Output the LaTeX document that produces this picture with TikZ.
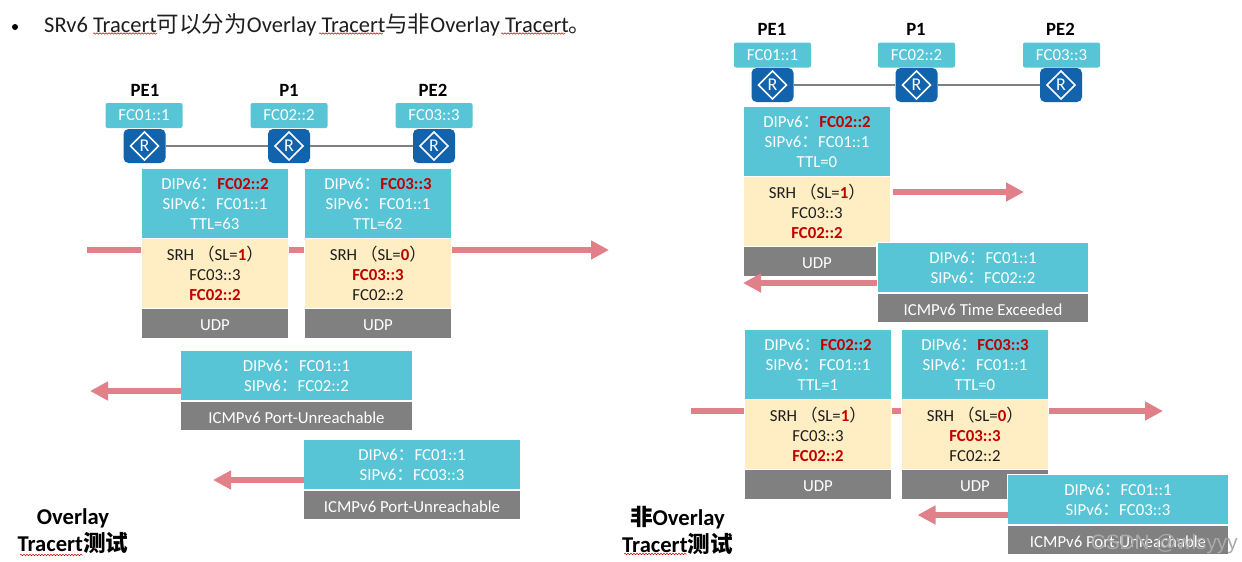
\documentclass[tikz,border=0pt]{standalone}
\usepackage{fontspec}
\usepackage{xcolor}
\usetikzlibrary{positioning,arrows.meta,decorations.pathmorphing}
\setmainfont{Carlito}
\newfontfamily\cjk{Noto Sans CJK SC}
\newfontfamily\markfont{Liberation Sans}
\definecolor{headcyan}{RGB}{87, 197, 214}
\definecolor{srhyellow}{RGB}{255, 237, 196}
\definecolor{udpgray}{RGB}{128, 128, 128}
\definecolor{arrowpink}{RGB}{226, 128, 138}
\definecolor{routerblue}{RGB}{18, 98, 172}
\definecolor{hotred}{RGB}{192, 0, 0}
\definecolor{inkblack}{RGB}{30, 30, 30}
\definecolor{markgray}{RGB}{170, 170, 170}
\newcommand{\hot}[1]{\textcolor{hotred}{\textbf{#1}}}
\newcommand{\zh}[1]{{\cjk #1}}
\newcommand{\cln}{\zh{：}}

\begin{document}
\begin{tikzpicture}[
  x=1pt, y=-1pt,
  pkt/.style={
    draw=white, line width=1.2pt, inner sep=0pt, outer sep=0pt,
    anchor=north, align=center, minimum width=147pt,
    font=\fontsize{16.8}{20}\selectfont
  },
  dip/.style={pkt, fill=headcyan, text=white, minimum height=70pt},
  dipshort/.style={pkt, fill=headcyan, text=white, minimum height=50.5pt},
  srh/.style={pkt, fill=srhyellow, text=inkblack, minimum height=70pt},
  udp/.style={
    pkt, fill=udpgray, text=white, minimum height=30pt,
    execute at begin node={\rule{0pt}{15pt}}
  },
  addr/.style={
    fill=headcyan, text=white, rounded corners=2pt, inner sep=0pt,
    minimum width=77pt, minimum height=25pt,
    font=\fontsize{16.8}{20}\selectfont
  },
  router/.style={
    fill=routerblue, text=white, rounded corners=5pt, inner sep=0pt,
    minimum width=42pt, minimum height=34pt,
    font=\fontsize{18}{18}\selectfont,
    path picture={
      \draw[white, line width=1.5pt, sharp corners]
        ([xshift=-14pt]path picture bounding box.center)
        -- ([yshift=14pt]path picture bounding box.center)
        -- ([xshift=14pt]path picture bounding box.center)
        -- ([yshift=-14pt]path picture bounding box.center) -- cycle;
    }
  },
  pe/.style={font=\fontsize{18.7}{20}\selectfont\bfseries, text=black},
  title/.style={font=\fontsize{22.6}{27}\selectfont\bfseries, text=black, align=center},
  link/.style={draw=udpgray, line width=2pt},
  flow/.style={-{Triangle[length=18pt,width=18pt]}, line width=6pt, arrowpink},
  squiggle/.style={
    draw=red!80!black, line width=0.5pt,
    decorate, decoration={snake, amplitude=0.7pt, segment length=3pt}
  }
]
\useasboundingbox (0,0) rectangle (1242,562);

%% ── HEADLINE ──
\node[circle, fill=black, inner sep=0pt, minimum size=6pt] (dot) at (15,27) {};
\node[anchor=west, inner sep=0pt, font=\fontsize{22.5}{26}\selectfont, text=inkblack] (headline) at (44,24.5)
  {SRv6 Tracert\zh{可以分为}Overlay Tracert\zh{与非}Overlay Tracert\zh{。}};
\draw[squiggle] (93,33.5) -- (157,33.5);
\draw[squiggle] (319,33.5) -- (383,33.5);
\draw[squiggle] (501,33.5) -- (565,33.5);

%% ── LEFT: ARROWS BEHIND PACKETS ──
\coordinate (Lin) at (87,250);
\coordinate (Lout) at (609,250);
\draw[flow] (Lin) -- (Lout);

%% ── LEFT: TOPOLOGY ──
\node[router] (LR1) at (144.5,146) {R};
\node[router] (LR2) at (289,146) {R};
\node[router] (LR3) at (434,146) {R};
\draw[link] (LR1) -- (LR2);
\draw[link] (LR2) -- (LR3);
\node[addr] (LA1) at (144,115.5) {FC01::1};
\node[addr] (LA2) at (289,115.5) {FC02::2};
\node[addr] (LA3) at (434,115.5) {FC03::3};
\node[pe] (LP1) at (145,90) {PE1};
\node[pe] (LP2) at (289,90) {P1};
\node[pe] (LP3) at (433,90) {PE2};

%% ── LEFT: PACKETS ──
\node[dip] (A1) at (215,168.5) {
  DIPv6\cln\hot{FC02::2}\\
  SIPv6\cln FC01::1\\
  TTL=63
};
\node[srh, below=0pt of A1] (A2) {
  SRH \zh{（}SL=\hot{1}\zh{）}\\
  FC03::3\\
  \hot{FC02::2}
};
\node[udp, below=0pt of A2] (A3) {UDP};
\node[dip] (B1) at (378,168.5) {
  DIPv6\cln\hot{FC03::3}\\
  SIPv6\cln FC01::1\\
  TTL=62
};
\node[srh, below=0pt of B1] (B2) {
  SRH \zh{（}SL=\hot{0}\zh{）}\\
  \hot{FC03::3}\\
  FC02::2
};
\node[udp, below=0pt of B2] (B3) {UDP};

%% ── LEFT: REPLIES ──
\node[dipshort, minimum width=232pt] (C1) at (296.5,350.5) {
  DIPv6\cln FC01::1\\
  SIPv6\cln FC02::2
};
\node[udp, minimum width=232pt, below=0pt of C1] (C2) {ICMPv6 Port-Unreachable};
\coordinate (Ctip) at (90,391);
\draw[flow] (Ctip -| C1.west) -- (Ctip);
\node[dipshort, minimum width=217pt] (D1) at (412,439.5) {
  DIPv6\cln FC01::1\\
  SIPv6\cln FC03::3
};
\node[udp, minimum width=217pt, below=0pt of D1] (D2) {ICMPv6 Port-Unreachable};
\coordinate (Dtip) at (213,480);
\draw[flow] (Dtip -| D1.west) -- (Dtip);

\node[title] (Ltitle) at (73,531.5) {Overlay\\Tracert\zh{测试}};
\draw[squiggle] (20,555) -- (83,555);

%% ── RIGHT: TOPOLOGY ──
\node[router] (RR1) at (772.5,85) {R};
\node[router] (RR2) at (916.5,85) {R};
\node[router] (RR3) at (1061,85) {R};
\draw[link] (RR1) -- (RR2);
\draw[link] (RR2) -- (RR3);
\node[addr] (RA1) at (772.5,55) {FC01::1};
\node[addr] (RA2) at (916.5,55) {FC02::2};
\node[addr] (RA3) at (1061.5,55) {FC03::3};
\node[pe] (RP1) at (772,29) {PE1};
\node[pe] (RP2) at (916,29) {P1};
\node[pe] (RP3) at (1060.5,29) {PE2};

%% ── RIGHT: FIRST PROBE ──
\node[dip] (E1) at (817,106.5) {
  DIPv6\cln\hot{FC02::2}\\
  SIPv6\cln FC01::1\\
  TTL=0
};
\node[srh, below=0pt of E1] (E2) {
  SRH \zh{（}SL=\hot{1}\zh{）}\\
  FC03::3\\
  \hot{FC02::2}
};
\node[udp, below=0pt of E2] (E3) {UDP};
\coordinate (Etip) at (1024,192);
\draw[flow] ([xshift=2pt]Etip -| E2.east) -- (Etip);
\node[dipshort, minimum width=212pt] (F1) at (983,242.5) {
  DIPv6\cln FC01::1\\
  SIPv6\cln FC02::2
};
\node[udp, minimum width=212pt, below=0pt of F1] (F2) {ICMPv6 Time Exceeded};
\coordinate (Ftip) at (743,283);
\draw[flow] (Ftip -| F1.west) -- (Ftip);

%% ── RIGHT: SECOND PROBE ──
\coordinate (Gin) at (691,411);
\coordinate (Gout) at (1163,411);
\draw[flow] (Gin) -- (Gout);
\node[dip] (G1) at (818,329.5) {
  DIPv6\cln\hot{FC02::2}\\
  SIPv6\cln FC01::1\\
  TTL=1
};
\node[srh, below=0pt of G1] (G2) {
  SRH \zh{（}SL=\hot{1}\zh{）}\\
  FC03::3\\
  \hot{FC02::2}
};
\node[udp, below=0pt of G2] (G3) {UDP};
\node[dip] (H1) at (975,329.5) {
  DIPv6\cln\hot{FC03::3}\\
  SIPv6\cln FC01::1\\
  TTL=0
};
\node[srh, below=0pt of H1] (H2) {
  SRH \zh{（}SL=\hot{0}\zh{）}\\
  \hot{FC03::3}\\
  FC02::2
};
\node[udp, below=0pt of H2] (H3) {UDP};
\node[dipshort, minimum width=221pt] (J1) at (1118,474.5) {
  DIPv6\cln FC01::1\\
  SIPv6\cln FC03::3
};
\node[udp, minimum width=221pt, below=0pt of J1] (J2) {ICMPv6 Port-Unreachable};
\coordinate (Jtip) at (917.5,515);
\draw[flow] (Jtip -| J1.west) -- (Jtip);

\node[title] (Rtitle) at (677.5,530.5) {\zh{非}Overlay\\Tracert\zh{测试}};
\draw[squiggle] (624,554) -- (687,554);

%% ── WATERMARK ──
\node[anchor=east, inner sep=0pt, font=\fontsize{20.8}{24}\selectfont\markfont, text=markgray] (mark) at (1238,544) {CSDN @wlsyyy};

\end{tikzpicture}
\end{document}
